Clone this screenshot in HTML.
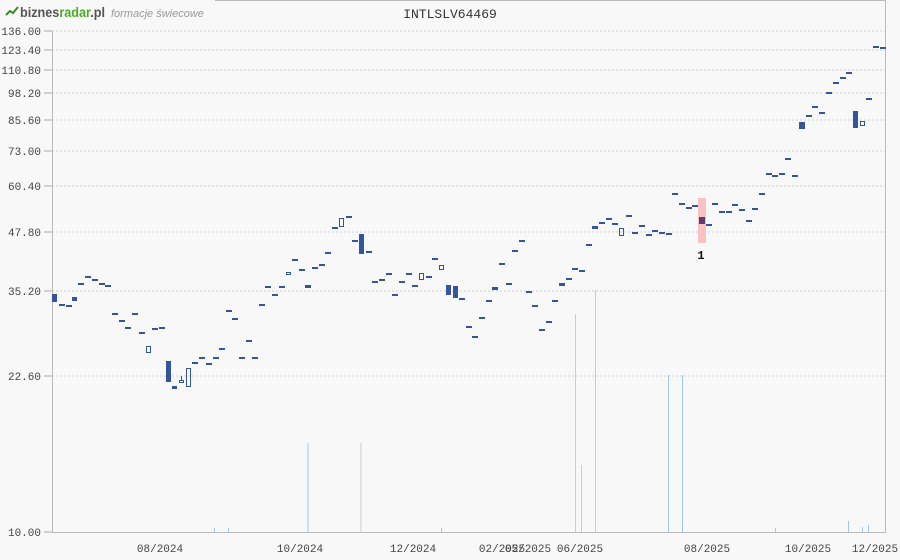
<!DOCTYPE html>
<html><head><meta charset="utf-8"><style>
html,body{margin:0;padding:0;background:#f8f8f8;}
svg{display:block}
text{font-family:"Liberation Mono","DejaVu Sans Mono",monospace;font-size:11px;fill:#444}
</style></head><body>
<svg width="900" height="560" viewBox="0 0 900 560" xmlns="http://www.w3.org/2000/svg">
<rect width="900" height="560" fill="#f8f8f8"/>
<line x1="215" y1="0.5" x2="885" y2="0.5" stroke="#bbb"/>
<g>
<path d="M6 15 L10 11 L13 13 L18 7" stroke="#3a8a2a" stroke-width="2" fill="none"/>
<text x="20" y="17" textLength="85" lengthAdjust="spacingAndGlyphs" style="font-family:'Liberation Sans',sans-serif;font-size:14px;font-weight:bold;fill:#555">biznes<tspan fill="#4caa2a">radar</tspan>.pl</text>
<text x="111" y="17" style="font-family:'Liberation Sans',sans-serif;font-size:11px;font-style:italic;fill:#999">formacje świecowe</text>
<text x="450" y="18" text-anchor="middle" style="font-size:13px;fill:#333">INTLSLV64469</text>
</g>
<g stroke="#d0d0d0" stroke-dasharray="2,2">
<line x1="52" y1="31" x2="885" y2="31"/><line x1="52" y1="50" x2="885" y2="50"/>
<line x1="52" y1="70" x2="885" y2="70"/><line x1="52" y1="93" x2="885" y2="93"/>
<line x1="52" y1="120" x2="885" y2="120"/><line x1="52" y1="151" x2="885" y2="151"/>
<line x1="52" y1="186" x2="885" y2="186"/><line x1="52" y1="232" x2="885" y2="232"/>
<line x1="52" y1="291" x2="885" y2="291"/><line x1="52" y1="376" x2="885" y2="376"/>
</g>
<g text-anchor="end">
<text x="41" y="35">136.00</text><text x="41" y="54">123.40</text><text x="41" y="74">110.80</text>
<text x="41" y="97">98.20</text><text x="41" y="124">85.60</text><text x="41" y="155">73.00</text>
<text x="41" y="190">60.40</text><text x="41" y="236">47.80</text><text x="41" y="295">35.20</text>
<text x="41" y="380">22.60</text><text x="41" y="536">10.00</text>
</g>
<g stroke="#aaa"><line x1="44" y1="31" x2="52" y2="31"/><line x1="44" y1="50" x2="52" y2="50"/><line x1="44" y1="70" x2="52" y2="70"/><line x1="44" y1="93" x2="52" y2="93"/><line x1="44" y1="120" x2="52" y2="120"/><line x1="44" y1="151" x2="52" y2="151"/><line x1="44" y1="186" x2="52" y2="186"/><line x1="44" y1="232" x2="52" y2="232"/><line x1="44" y1="291" x2="52" y2="291"/><line x1="44" y1="376" x2="52" y2="376"/><line x1="44" y1="532" x2="52" y2="532"/></g>
<g stroke-width="1">
<line x1="308" y1="443" x2="308" y2="532" stroke="#9cc8f0"/>
<line x1="361" y1="443" x2="361" y2="532" stroke="#ccc"/>
<line x1="575.5" y1="314" x2="575.5" y2="532" stroke="#ccc"/>
<line x1="581.5" y1="465" x2="581.5" y2="532" stroke="#ccc"/>
<line x1="595.5" y1="290" x2="595.5" y2="532" stroke="#ccc"/>
<line x1="668.5" y1="375" x2="668.5" y2="532" stroke="#9cc8f0"/>
<line x1="682.5" y1="375" x2="682.5" y2="532" stroke="#9cc8f0"/>
<line x1="848.5" y1="521" x2="848.5" y2="532" stroke="#9cc8f0"/>
<line x1="862.5" y1="527" x2="862.5" y2="532" stroke="#9cc8f0"/>
<line x1="868.5" y1="525" x2="868.5" y2="532" stroke="#9cc8f0"/>
<line x1="214.5" y1="528" x2="214.5" y2="532" stroke="#9cc8f0"/>
<line x1="228.5" y1="528" x2="228.5" y2="532" stroke="#9cc8f0"/>
<line x1="441.5" y1="528" x2="441.5" y2="532" stroke="#9cc8f0"/>
<line x1="775.5" y1="528" x2="775.5" y2="532" stroke="#9cc8f0"/>
</g>
<line x1="52.5" y1="31" x2="52.5" y2="533" stroke="#bbb"/>
<line x1="885.5" y1="0" x2="885.5" y2="533" stroke="#bbb"/>
<line x1="52" y1="532.5" x2="886" y2="532.5" stroke="#bbb"/>
<rect x="698" y="198" width="8" height="45" fill="#f9c3c3"/>
<text x="701" y="259" text-anchor="middle" style="font-weight:bold;fill:#111;font-size:12px">1</text>
<g fill="#34559c">
<rect x="52" y="294" width="5" height="8"/>
<rect x="59" y="304" width="6" height="2"/><rect x="66" y="305" width="6" height="2"/><rect x="72" y="297" width="5" height="4"/>
<rect x="78" y="283" width="6" height="2"/><rect x="85" y="276" width="6" height="2"/><rect x="92" y="279" width="6" height="2"/><rect x="99" y="283" width="6" height="2"/><rect x="105" y="285" width="6" height="2"/>
<rect x="112" y="313" width="6" height="2"/><rect x="119" y="320" width="6" height="2"/><rect x="125" y="327" width="6" height="2"/><rect x="132" y="313" width="6" height="2"/>
<rect x="139" y="332" width="6" height="2"/><rect x="152" y="328" width="6" height="2"/><rect x="159" y="327" width="6" height="2"/>
<rect x="166" y="361" width="5" height="21"/><rect x="172" y="386" width="5" height="3"/>
<rect x="192" y="362" width="6" height="2"/><rect x="199" y="357" width="6" height="2"/><rect x="206" y="363" width="6" height="2"/><rect x="213" y="357" width="6" height="2"/><rect x="219" y="348" width="6" height="2"/>
<rect x="226" y="310" width="6" height="2"/><rect x="232" y="318" width="6" height="2"/><rect x="239" y="357" width="6" height="2"/><rect x="246" y="340" width="6" height="2"/><rect x="252" y="357" width="6" height="2"/>
<rect x="259" y="304" width="6" height="2"/><rect x="265" y="286" width="6" height="2"/><rect x="272" y="294" width="6" height="2"/><rect x="279" y="286" width="6" height="2"/>
<rect x="292" y="259" width="6" height="2"/><rect x="299" y="269" width="6" height="2"/><rect x="305" y="285" width="6" height="3"/><rect x="312" y="267" width="6" height="2"/><rect x="319" y="264" width="6" height="2"/><rect x="325" y="252" width="6" height="2"/>
<rect x="332" y="227" width="6" height="2"/><rect x="346" y="216" width="6" height="2"/><rect x="352" y="240" width="6" height="2"/><rect x="359" y="234" width="5" height="20"/>
<rect x="366" y="251" width="6" height="2"/><rect x="372" y="281" width="6" height="2"/><rect x="379" y="279" width="6" height="2"/><rect x="386" y="273" width="6" height="2"/><rect x="392" y="294" width="6" height="2"/><rect x="399" y="281" width="6" height="2"/><rect x="406" y="273" width="6" height="2"/><rect x="412" y="285" width="6" height="2"/>
<rect x="426" y="276" width="6" height="2"/><rect x="432" y="258" width="6" height="2"/>
<rect x="446" y="285" width="5" height="10"/><rect x="453" y="286" width="5" height="12"/>
<rect x="459" y="298" width="6" height="2"/><rect x="466" y="326" width="6" height="2"/><rect x="472" y="336" width="6" height="2"/><rect x="479" y="317" width="6" height="2"/><rect x="486" y="300" width="6" height="2"/><rect x="492" y="287" width="6" height="3"/>
<rect x="499" y="263" width="6" height="2"/><rect x="506" y="283" width="6" height="2"/><rect x="512" y="250" width="6" height="2"/><rect x="519" y="240" width="6" height="2"/><rect x="526" y="291" width="6" height="2"/>
<rect x="532" y="305" width="6" height="2"/><rect x="539" y="329" width="6" height="2"/><rect x="546" y="321" width="6" height="2"/><rect x="552" y="300" width="6" height="2"/><rect x="559" y="283" width="6" height="3"/>
<rect x="566" y="278" width="6" height="2"/><rect x="572" y="268" width="6" height="2"/><rect x="579" y="270" width="6" height="2"/><rect x="586" y="244" width="6" height="2"/><rect x="592" y="226" width="6" height="3"/>
<rect x="599" y="222" width="6" height="2"/><rect x="606" y="218" width="6" height="2"/><rect x="612" y="223" width="6" height="2"/><rect x="626" y="215" width="6" height="2"/><rect x="632" y="232" width="6" height="2"/>
<rect x="639" y="225" width="6" height="2"/><rect x="646" y="234" width="6" height="2"/><rect x="652" y="230" width="6" height="2"/><rect x="659" y="232" width="6" height="2"/><rect x="666" y="233" width="6" height="2"/>
<rect x="672" y="193" width="6" height="2"/><rect x="679" y="203" width="6" height="2"/><rect x="686" y="207" width="6" height="2"/><rect x="692" y="205" width="6" height="2"/>
<rect x="699" y="217" width="6" height="7" fill="#5a3a78"/><rect x="706" y="224" width="6" height="2"/>
<rect x="712" y="203" width="6" height="2"/><rect x="719" y="211" width="6" height="2"/><rect x="726" y="211" width="6" height="2"/><rect x="732" y="204" width="6" height="2"/><rect x="739" y="209" width="6" height="2"/><rect x="746" y="220" width="6" height="2"/><rect x="752" y="208" width="6" height="2"/>
<rect x="759" y="193" width="6" height="2"/><rect x="766" y="173" width="6" height="2"/><rect x="772" y="175" width="6" height="2"/><rect x="779" y="173" width="6" height="2"/><rect x="785" y="158" width="6" height="2"/><rect x="792" y="175" width="6" height="2"/>
<rect x="799" y="122" width="6" height="7"/><rect x="806" y="115" width="6" height="2"/><rect x="812" y="106" width="6" height="2"/><rect x="819" y="112" width="6" height="2"/><rect x="826" y="92" width="6" height="2"/>
<rect x="833" y="82" width="6" height="2"/><rect x="840" y="77" width="6" height="2"/><rect x="846" y="72" width="6" height="2"/>
<rect x="853" y="111" width="5" height="17"/><rect x="866" y="98" width="6" height="2"/><rect x="873" y="46" width="6" height="2"/><rect x="880" y="47" width="6" height="2"/>
</g>
<g fill="none" stroke="#34559c" stroke-width="1">
<rect x="146.5" y="346.5" width="4" height="6"/>
<rect x="179.5" y="380.5" width="4" height="2"/><line x1="181.5" y1="376" x2="181.5" y2="380"/>
<rect x="186.5" y="368.5" width="4" height="18"/>
<rect x="286.5" y="272.5" width="4" height="2"/>
<rect x="339.5" y="218.5" width="4" height="8"/>
<rect x="419.5" y="273.5" width="4" height="6"/>
<rect x="439.5" y="265.5" width="4" height="4"/>
<rect x="619.5" y="228.5" width="4" height="7"/>
<rect x="860.5" y="121.5" width="4" height="4"/>
</g>
<g text-anchor="middle">
<text x="160" y="552">08/2024</text><text x="300" y="552">10/2024</text><text x="413" y="552">12/2024</text>
<text x="502" y="552">02/2025</text><text x="528" y="552">05/2025</text><text x="580" y="552">06/2025</text>
<text x="707" y="552">08/2025</text><text x="808" y="552">10/2025</text><text x="875" y="552">12/2025</text>
</g>
</svg>
</body></html>
